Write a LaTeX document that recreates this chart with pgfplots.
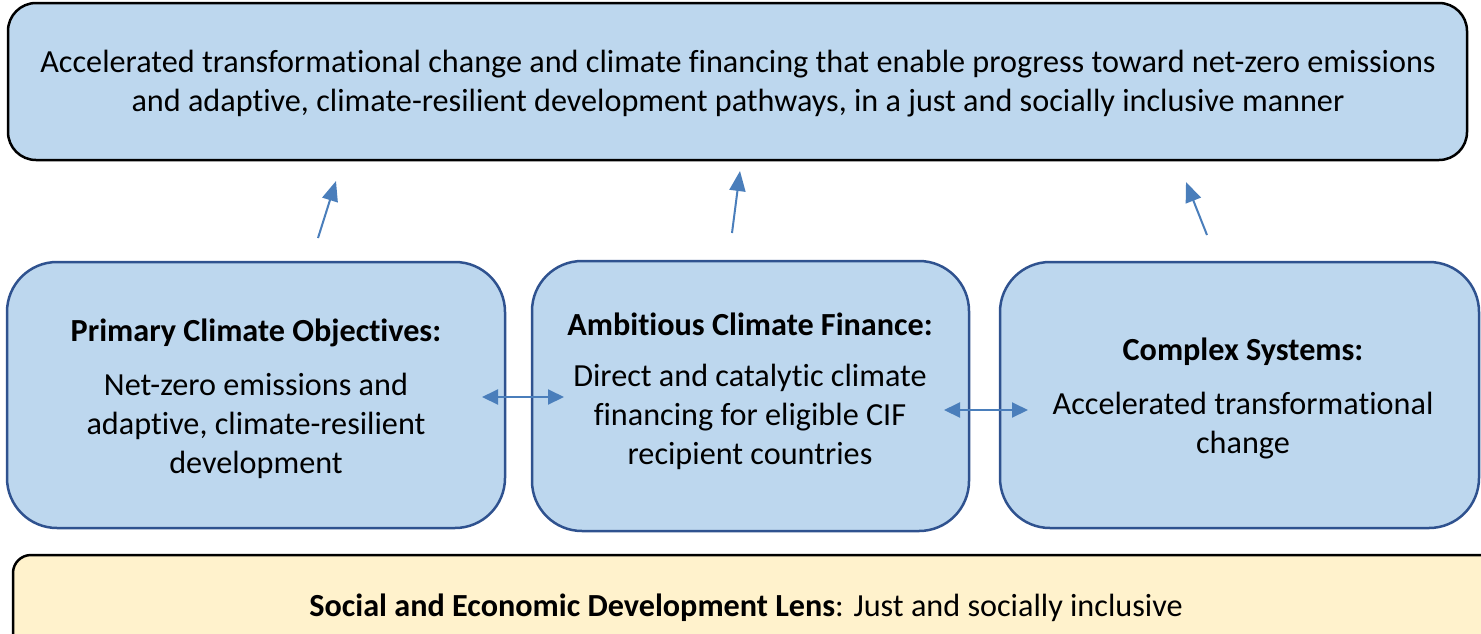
\documentclass[border=0pt]{standalone}
\usepackage{pgfplots}
\pgfplotsset{compat=1.18}
\usepackage{fontspec}
\setmainfont{Carlito}[RawFeature={-liga;-calt;-dlig;-clig}]
\usetikzlibrary{arrows.meta}
\definecolor{boxblue}{HTML}{BDD7EE}
\definecolor{boxedge}{HTML}{2F528F}
\definecolor{boxyellow}{HTML}{FFF2CC}
\definecolor{arrowblue}{HTML}{4A7EBB}
\tikzset{lbl/.style={font=\fontsize{32.2}{39}\selectfont, align=center, inner sep=0pt, text=black}}
\begin{document}
\begin{tikzpicture}
\begin{axis}[
  width=1481pt, height=633pt, scale only axis,
  xmin=0, xmax=1481, ymin=0, ymax=633, y dir=reverse,
  hide axis, clip=true,
]
% top box
\addplot[fill=boxblue, draw=black, line width=2.5pt, rounded corners=28pt]
  coordinates {(8,3) (1467,3) (1467,160) (8,160)} -- cycle;
% middle boxes
\addplot[fill=boxblue, draw=boxedge, line width=2.5pt, rounded corners=50pt]
  coordinates {(7,262) (505,262) (505,528) (7,528)} -- cycle;
\addplot[fill=boxblue, draw=boxedge, line width=2.5pt, rounded corners=50pt]
  coordinates {(532,261) (969,261) (969,531) (532,531)} -- cycle;
\addplot[fill=boxblue, draw=boxedge, line width=2.5pt, rounded corners=50pt]
  coordinates {(1000,262) (1479,262) (1479,528) (1000,528)} -- cycle;
% bottom box
\addplot[fill=boxyellow, draw=black, line width=2.5pt, rounded corners=18pt]
  coordinates {(13,555) (1500,555) (1500,660) (13,660)} -- cycle;
% arrows up
\addplot[draw=arrowblue, line width=2pt, -{Triangle[length=20pt,width=16pt]}]
  coordinates {(318,238) (336,181)};
\addplot[draw=arrowblue, line width=2pt, -{Triangle[length=20pt,width=16pt]}]
  coordinates {(732,233) (740,171)};
\addplot[draw=arrowblue, line width=2pt, -{Triangle[length=20pt,width=16pt]}]
  coordinates {(1207,235) (1186,182)};
% double arrows
\addplot[draw=arrowblue, line width=2pt, {Triangle[length=16pt,width=15pt]}-{Triangle[length=16pt,width=15pt]}]
  coordinates {(482,397) (564,397)};
\addplot[draw=arrowblue, line width=2pt, {Triangle[length=16pt,width=15pt]}-{Triangle[length=16pt,width=15pt]}]
  coordinates {(944,410) (1028,410)};
% texts
\node[lbl] at (axis cs:738,84) {Accelerated transformational change and climate financing that enable progress toward net-zero emissions\\and adaptive, climate-resilient development pathways, in a just and socially inclusive manner};
\node[lbl] at (axis cs:256,333) {\bfseries Primary Climate Objectives:};
\node[lbl] at (axis cs:256,426) {Net-zero emissions and\\adaptive, climate-resilient\\development};
\node[lbl] at (axis cs:750,324) {\bfseries Ambitious Climate Finance:};
\node[lbl] at (axis cs:750,417) {Direct and catalytic climate\\financing for eligible CIF\\recipient countries};
\node[lbl] at (axis cs:1243,352) {\bfseries Complex Systems:};
\node[lbl] at (axis cs:1243,426) {Accelerated transformational\\change};
\node[lbl] at (axis cs:746,608) {\textbf{Social and Economic Development Lens}: Just and socially inclusive};
\end{axis}
\pgfresetboundingbox
\path (0,0) rectangle (1481pt,633pt);
\end{tikzpicture}
\end{document}
